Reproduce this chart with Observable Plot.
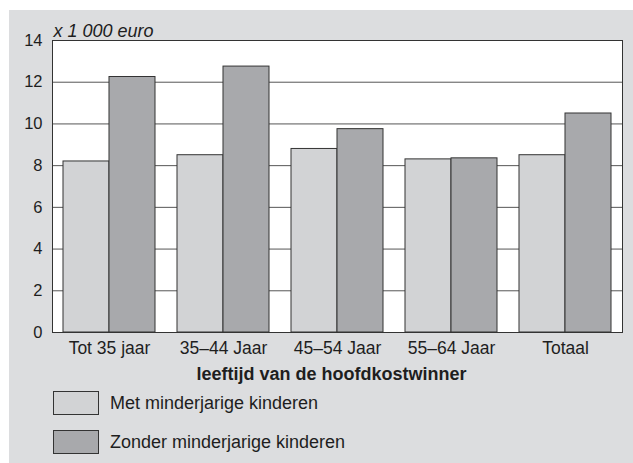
<!DOCTYPE html>
<html><head><meta charset="utf-8">
<script src="https://cdn.jsdelivr.net/npm/d3@7"></script>
<script src="https://cdn.jsdelivr.net/npm/@observablehq/plot@0.6"></script>
<style>
body{margin:0;background:#fff;font-family:"Liberation Sans",Arial,Helvetica,sans-serif;}
#panel{position:absolute;left:9px;top:10px;width:624px;height:453px;background:#dcdddf;}
#chart{position:absolute;left:0;top:0;}
.item{position:absolute;left:44px;height:24px;display:flex;align-items:center;font-size:18px;color:#1e1e1e;}
.box{box-sizing:border-box;width:46px;height:24px;border:1px solid #333;margin-right:11px;}
</style></head><body>
<div id="panel"><div id="chart"></div><div id="legend"></div></div>
<script>
const categories = ["Tot 35 jaar","35–44 Jaar","45–54 Jaar","55–64 Jaar","Totaal"];
const metValues = [8.2, 8.5, 8.8, 8.3, 8.5];
const zonderValues = [12.25, 12.75, 9.75, 8.35, 10.5];
const seriesNames = ["Met minderjarige kinderen","Zonder minderjarige kinderen"];
const seriesColors = ["#d2d3d5","#a8a9ac"];
const yTicks = [0,2,4,6,8,10,12,14];
const yUnit = "x 1 000 euro";
const xLabel = "leeftijd van de hoofdkostwinner";

const data = categories.map((c,i)=>({cat:c, met:metValues[i], zonder:zonderValues[i]}));

const W = 624, H = 380, ml = 43, mr = 11, mt = 30, mb = 58;
const pIn = 0.193, pOut = 0.0965;
const step = (W - ml - mr) / (categories.length - pIn + 2*pOut);
const bw = step * (1 - pIn);

const chart = Plot.plot({
  width: W, height: H,
  marginLeft: ml, marginRight: mr, marginTop: mt, marginBottom: mb,
  style: {fontFamily: '"Liberation Sans",Arial,Helvetica,sans-serif', color: "#1e1e1e", background: "transparent", overflow: "visible"},
  x: {domain: categories, paddingInner: pIn, paddingOuter: pOut, label: null},
  y: {domain: [0, 14], label: null},
  marks: [
    Plot.frame({fill: "white", stroke: null}),
    Plot.gridY(yTicks, {stroke: "#555", strokeOpacity: 1, strokeWidth: 1}),
    Plot.barY(data, {x: "cat", y: "met", fill: seriesColors[0], stroke: "#333", strokeWidth: 1, insetLeft: 0, insetRight: bw/2}),
    Plot.barY(data, {x: "cat", y: "zonder", fill: seriesColors[1], stroke: "#333", strokeWidth: 1, insetLeft: bw/2, insetRight: 0}),
    Plot.frame({stroke: "#333", strokeWidth: 1}),
    Plot.axisY(yTicks, {tickSize: 0, tickPadding: 10, fontSize: 16.5, label: null}),
    Plot.axisX({tickSize: 0, tickPadding: 9, fontSize: 17.5, label: null}),
    Plot.text([xLabel], {text: d => d, frameAnchor: "bottom", dx: -6, dy: 47, lineAnchor: "bottom", fontWeight: "bold", fontSize: 18, fill: "#1e1e1e"}),
    Plot.text([yUnit], {text: d => d, frameAnchor: "top-left", textAnchor: "start", lineAnchor: "bottom", dx: 1, dy: -4, fontStyle: "italic", fontSize: 18, fill: "#1e1e1e"})
  ]
});
document.getElementById("chart").appendChild(chart);

const legend = document.getElementById("legend");
const tops = [381, 420];
seriesNames.forEach((name, i) => {
  const it = document.createElement("div");
  it.className = "item";
  it.style.top = tops[i] + "px";
  const b = document.createElement("div");
  b.className = "box";
  b.style.background = seriesColors[i];
  const t = document.createElement("span");
  t.textContent = name;
  it.appendChild(b); it.appendChild(t);
  legend.appendChild(it);
});
</script>
</body></html>
